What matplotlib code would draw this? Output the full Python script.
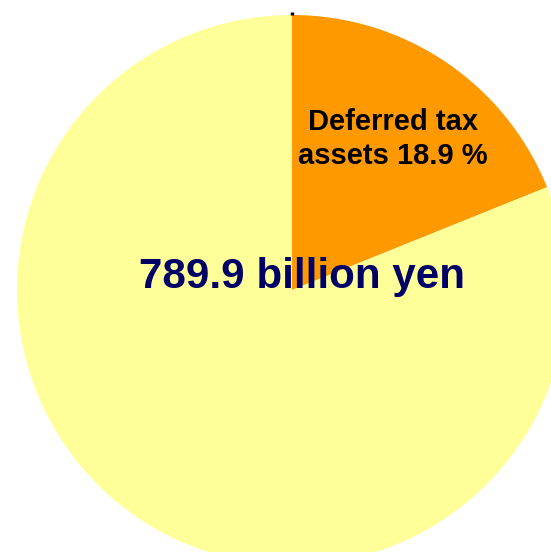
import matplotlib.pyplot as plt

# Share of deferred tax assets in the total
labels = ["Deferred tax\nassets 18.9 %", "Other"]
shares = [18.9, 81.1]
colors = ["#FF9900", "#FFFF99"]
total_label = "789.9 billion yen"

W, H = 551, 552
fig = plt.figure(figsize=(W / 100, H / 100), dpi=100)
ax = fig.add_axes([0, 0, 1, 1])

ax.pie(shares, colors=colors, startangle=90, counterclock=False,
       radius=275, center=(292, H - 290),
       wedgeprops=dict(linewidth=0))

# small tick mark at the top of the pie
ax.plot([292, 292], [H - 12, H - 15], color="black", lw=2.5, solid_capstyle="butt")

ax.text(393, H - 139, labels[0], ha="center", va="center",
        fontsize=21, fontweight="bold", color="black",
        family="Liberation Sans", linespacing=1.3)
ax.text(302, H - 288, total_label, ha="center", va="baseline",
        fontsize=30.3, fontweight="bold", color="#000066",
        family="Liberation Sans")

ax.set_xlim(0, W)
ax.set_ylim(0, H)
ax.set_aspect("equal")
ax.axis("off")

fig.savefig("out.png", dpi=100)
